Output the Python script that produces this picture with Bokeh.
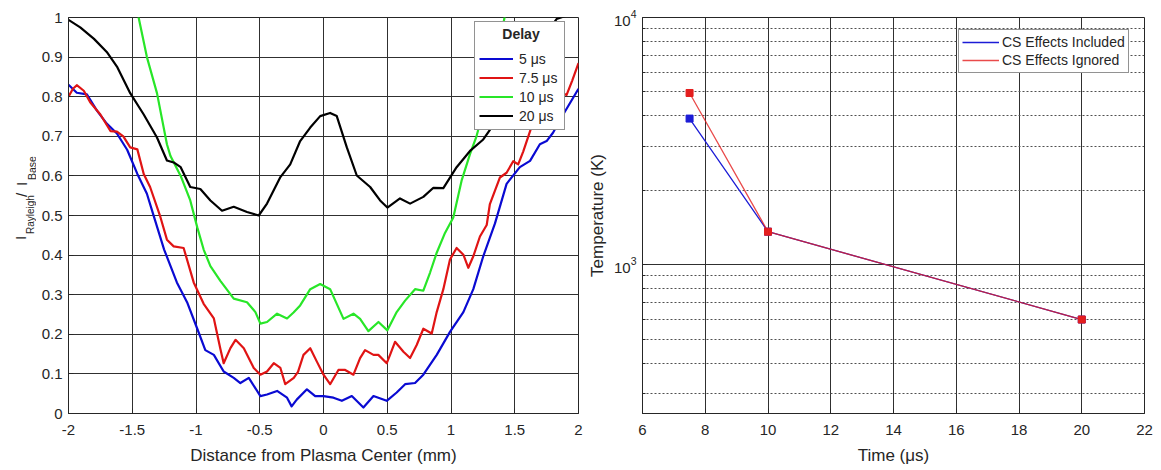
from bokeh.plotting import figure
from bokeh.models import Range1d, FixedTicker, Legend, LegendItem
from bokeh.layouts import row
from bokeh.embed import file_html
from bokeh.resources import INLINE
from bokeh.core.properties import value

FONT = "Liberation Sans"
INK = "#262626"
GRID = "#303030"

# ---------------- left panel data ----------------
x_5us = [-2.0, -1.935, -1.856, -1.777, -1.70, -1.62, -1.54, -1.46, -1.385, -1.33,
         -1.25, -1.15, -1.07, -0.99, -0.927, -0.86, -0.783, -0.704, -0.652, -0.586,
         -0.495, -0.443, -0.364, -0.286, -0.25, -0.21, -0.13, -0.065, 0.0, 0.078,
         0.144, 0.222, 0.313, 0.392, 0.496, 0.574, 0.64, 0.718, 0.783, 0.888,
         0.992, 1.097, 1.175, 1.253, 1.345, 1.436, 1.54, 1.62, 1.697, 1.75,
         1.80, 1.88, 2.0]
y_5us = [0.83, 0.81, 0.806, 0.765, 0.732, 0.707, 0.666, 0.605, 0.555, 0.497,
         0.414, 0.331, 0.281, 0.214, 0.16, 0.148, 0.106, 0.09, 0.077, 0.09,
         0.044, 0.048, 0.057, 0.04, 0.018, 0.035, 0.061, 0.044, 0.044, 0.04,
         0.032, 0.044, 0.015, 0.044, 0.032, 0.053, 0.074, 0.077, 0.098, 0.148,
         0.206, 0.256, 0.314, 0.397, 0.48, 0.58, 0.622, 0.638, 0.68, 0.688,
         0.709, 0.755, 0.82]

x_7p5us = [-2.0, -1.965, -1.935, -1.88, -1.83, -1.75, -1.67, -1.62, -1.57, -1.516,
           -1.46, -1.41, -1.36, -1.28, -1.228, -1.175, -1.097, -1.018, -0.94, -0.86,
           -0.81, -0.783, -0.73, -0.69, -0.625, -0.547, -0.495, -0.443, -0.39, -0.338,
           -0.30, -0.233, -0.20, -0.157, -0.104, -0.052, 0.0, 0.052, 0.117, 0.17,
           0.235, 0.287, 0.326, 0.392, 0.43, 0.496, 0.522, 0.561, 0.627, 0.679,
           0.731, 0.783, 0.849, 0.888, 0.94, 0.992, 1.044, 1.097, 1.136, 1.175,
           1.227, 1.28, 1.305, 1.384, 1.436, 1.488, 1.527, 1.567, 1.619, 1.645,
           1.75, 1.82, 1.88, 1.906, 1.95, 2.0]
y_7p5us = [0.80, 0.82, 0.829, 0.815, 0.786, 0.755, 0.713, 0.712, 0.70, 0.672,
           0.667, 0.605, 0.572, 0.497, 0.439, 0.422, 0.418, 0.331, 0.277, 0.24,
           0.165, 0.127, 0.165, 0.186, 0.165, 0.115, 0.098, 0.106, 0.127, 0.115,
           0.074, 0.09, 0.105, 0.148, 0.165, 0.131, 0.098, 0.074, 0.11, 0.11,
           0.098, 0.14, 0.16, 0.148, 0.148, 0.127, 0.148, 0.181, 0.156, 0.14,
           0.173, 0.214, 0.202, 0.256, 0.314, 0.389, 0.418, 0.401, 0.368, 0.397,
           0.447, 0.476, 0.529, 0.596, 0.608, 0.637, 0.629, 0.662, 0.712, 0.737,
           0.77, 0.80, 0.808, 0.804, 0.84, 0.885]

x_10us = [-1.47, -1.45, -1.385, -1.306, -1.228, -1.20, -1.12, -1.045, -0.99, -0.94,
          -0.887, -0.809, -0.704, -0.60, -0.534, -0.495, -0.443, -0.364, -0.286, -0.235,
          -0.183, -0.104, -0.026, 0.052, 0.157, 0.235, 0.287, 0.352, 0.431, 0.501,
          0.574, 0.64, 0.718, 0.783, 0.836, 0.888, 0.953, 1.018, 1.083, 1.149,
          1.20, 1.30, 1.37, 1.42, 1.44]
y_10us = [1.03, 1.0, 0.90, 0.809, 0.68, 0.65, 0.60, 0.538, 0.47, 0.414,
          0.372, 0.335, 0.29, 0.281, 0.256, 0.227, 0.231, 0.252, 0.24, 0.255,
          0.273, 0.314, 0.327, 0.314, 0.239, 0.252, 0.239, 0.208, 0.231, 0.21,
          0.256, 0.285, 0.314, 0.31, 0.356, 0.406, 0.456, 0.495, 0.588, 0.655,
          0.70, 0.82, 0.92, 1.0, 1.03]

x_20us = [-2.0, -1.908, -1.80, -1.70, -1.62, -1.516, -1.41, -1.306, -1.228, -1.175,
          -1.12, -1.045, -0.966, -0.887, -0.796, -0.704, -0.60, -0.508, -0.443, -0.338,
          -0.261, -0.183, -0.104, -0.026, 0.052, 0.104, 0.183, 0.261, 0.366, 0.444,
          0.501, 0.60, 0.679, 0.783, 0.862, 0.94, 1.044, 1.149, 1.253, 1.40,
          1.55, 1.70, 1.762, 1.828, 1.906, 2.0]
y_20us = [0.994, 0.975, 0.946, 0.913, 0.876, 0.809, 0.755, 0.697, 0.639, 0.634,
          0.622, 0.572, 0.567, 0.538, 0.512, 0.522, 0.509, 0.50, 0.53, 0.597,
          0.629, 0.688, 0.722, 0.751, 0.759, 0.751, 0.672, 0.601, 0.572, 0.538,
          0.52, 0.543, 0.53, 0.547, 0.57, 0.569, 0.622, 0.663, 0.692, 0.76,
          0.84, 0.92, 0.967, 0.996, 1.005, 1.02]

delay_title = "Delay"
delay_labels = ["5 μs", "7.5 μs", "10 μs", "20 μs"]
delay_colors = ["#0a0ad2", "#e01414", "#28e628", "#000000"]

left_xticks = [-2.0, -1.5, -1.0, -0.5, 0.0, 0.5, 1.0, 1.5, 2.0]
left_xtick_labels = ["-2", "-1.5", "-1", "-0.5", "0", "0.5", "1", "1.5", "2"]
left_yticks = [0.0, 0.1, 0.2, 0.3, 0.4, 0.5, 0.6, 0.7, 0.8, 0.9, 1.0]
left_ytick_labels = ["0", "0.1", "0.2", "0.3", "0.4", "0.5", "0.6", "0.7", "0.8", "0.9", "1"]

# ---------------- right panel data ----------------
time_us = [7.5, 10.0, 20.0]
temp_cs_included = [3900, 1360, 600]
temp_cs_ignored = [4950, 1360, 600]
right_xticks = [6, 8, 10, 12, 14, 16, 18, 20, 22]
right_xtick_labels = ["6", "8", "10", "12", "14", "16", "18", "20", "22"]
right_yticks = [1000, 10000]
right_yminor = [300, 400, 500, 600, 700, 800, 900,
                2000, 3000, 4000, 5000, 6000, 7000, 8000, 9000]


def style_axis(ax, size="15px"):
    ax.axis_line_color = INK
    ax.axis_line_width = 1
    ax.major_tick_line_color = INK
    ax.major_tick_in = 5
    ax.major_tick_out = 0
    ax.minor_tick_in = 3
    ax.minor_tick_out = 0
    ax.minor_tick_line_color = INK
    ax.major_label_text_font = FONT
    ax.major_label_text_font_size = size
    ax.major_label_text_color = INK
    ax.axis_label_text_font = FONT
    ax.axis_label_text_font_size = "17px"
    ax.axis_label_text_font_style = "normal"
    ax.axis_label_text_color = INK


# ================= y-axis title strip for the left panel =================
W0 = 36
p0 = figure(width=W0, height=470, output_backend="svg", toolbar_location=None,
            x_range=Range1d(0, W0), y_range=Range1d(470, 0),
            x_axis_location=None, y_axis_location=None,
            min_border_left=0, min_border_right=0, min_border_top=0, min_border_bottom=0)
p0.outline_line_color = None
p0.grid.visible = False
p0.background_fill_color = "white"
p0.border_fill_color = "white"
# pieces of  I_Rayleigh / I_Base  (canvas pixel positions, rotated 90 deg)
ylab_parts = [("I", 20, 264, "15px"), ("Rayleigh", 30, 257, "10px"),
              ("/", 21, 213, "15px"), ("I", 21, 200, "15px"), ("Base", 31, 193, "10.5px")]
for txt, cx, cy, fs in ylab_parts:
    p0.text(x=[cx], y=[cy], text=[txt], angle=1.5707963, text_align="left",
            text_baseline="alphabetic", text_font=value(FONT), text_font_size=value(fs),
            text_color=INK)

# ================= left figure =================
p1 = figure(width=584 - W0, height=470, output_backend="svg", toolbar_location=None,
            x_range=Range1d(-2, 2), y_range=Range1d(0, 1),
            min_border_left=68 - W0, min_border_right=6, min_border_top=11, min_border_bottom=57)
p1.background_fill_color = "white"
p1.border_fill_color = "white"
p1.outline_line_color = INK
p1.outline_line_alpha = 1

p1.xaxis.ticker = FixedTicker(ticks=left_xticks)
p1.yaxis.ticker = FixedTicker(ticks=left_yticks)
p1.xaxis.major_label_overrides = dict(zip(left_xticks, left_xtick_labels))
p1.yaxis.major_label_overrides = dict(zip(left_yticks, left_ytick_labels))
style_axis(p1.xaxis[0])
style_axis(p1.yaxis[0])
p1.xaxis.major_label_standoff = 11
p1.yaxis.major_label_standoff = 6
p1.xaxis.axis_label = "Distance from Plasma Center (mm)"
p1.xaxis.axis_label_standoff = 8
for g in (p1.xgrid[0], p1.ygrid[0]):
    g.grid_line_color = GRID
    g.grid_line_width = 1
    g.grid_line_alpha = 1

series = [(x_5us, y_5us), (x_7p5us, y_7p5us), (x_10us, y_10us), (x_20us, y_20us)]
left_renderers = []
for (xs, ys), c in zip(series, delay_colors):
    r = p1.line(xs, ys, line_color=c, line_width=2.2, line_join="round")
    left_renderers.append(r)

# title padded with no-break spaces so that it sits centred in the box
leg1 = Legend(items=[LegendItem(label=l, renderers=[r]) for l, r in zip(delay_labels, left_renderers)],
              location=(406, 283), title="\u00a0" * 6 + delay_title,
              title_text_font=FONT, title_text_font_size="14px", title_text_font_style="bold",
              title_text_color=INK, title_standoff=7, padding=4, spacing=0, margin=0,
              glyph_width=34, glyph_height=19, label_height=19, label_width=41, label_standoff=6,
              label_text_font=FONT, label_text_font_size="14px", label_text_color=INK,
              border_line_color=INK, border_line_width=1,
              background_fill_color="white", background_fill_alpha=1)
p1.add_layout(leg1)

# ================= right figure =================
p2 = figure(width=577, height=470, output_backend="svg", toolbar_location=None,
            y_axis_type="log", x_range=Range1d(6, 22), y_range=Range1d(250, 10000),
            min_border_left=57, min_border_right=17, min_border_top=17, min_border_bottom=56)
p2.background_fill_color = "white"
p2.border_fill_color = "white"
p2.outline_line_color = INK
p2.outline_line_alpha = 1

p2.xaxis.ticker = FixedTicker(ticks=right_xticks)
p2.xaxis.major_label_overrides = dict(zip(right_xticks, right_xtick_labels))
p2.yaxis.ticker = FixedTicker(ticks=right_yticks, minor_ticks=right_yminor)
style_axis(p2.xaxis[0])
style_axis(p2.yaxis[0])
p2.xaxis.major_label_standoff = 11
p2.yaxis.major_label_standoff = 6
p2.xaxis.axis_label = "Time (μs)"
p2.xaxis.axis_label_standoff = 8
p2.yaxis.axis_label = "Temperature (K)"
p2.yaxis.axis_label_standoff = 4
for g in (p2.xgrid[0], p2.ygrid[0]):
    g.grid_line_color = GRID
    g.grid_line_width = 1
    g.grid_line_alpha = 1
p2.ygrid.minor_grid_line_color = "#505050"
p2.ygrid.minor_grid_line_dash = "2 2"
p2.ygrid.minor_grid_line_width = 1

BLUE = "#1c1cd6"
RED = "#e41e1e"
rb = p2.line(time_us, temp_cs_included, line_color=BLUE, line_width=1.3)
p2.scatter(time_us, temp_cs_included, marker="square", size=7, color=BLUE)
rr = p2.line(time_us, temp_cs_ignored, line_color=RED, line_width=1.3, line_alpha=0.8)
p2.scatter(time_us, temp_cs_ignored, marker="square", size=7, color=RED)

leg2 = Legend(items=[LegendItem(label="CS Effects Included", renderers=[rb]),
                     LegendItem(label="CS Effects Ignored", renderers=[rr])],
              location=(316, 340), padding=3, spacing=0, margin=0,
              glyph_width=37, glyph_height=18, label_height=18, label_width=20, label_standoff=3,
              label_text_font=FONT, label_text_font_size="14px", label_text_color=INK,
              border_line_color=INK, border_line_width=1,
              background_fill_color="white", background_fill_alpha=1)
p2.add_layout(leg2)

layout = row(p0, p1, p2)
open("out.html", "w").write(file_html(layout, INLINE))
